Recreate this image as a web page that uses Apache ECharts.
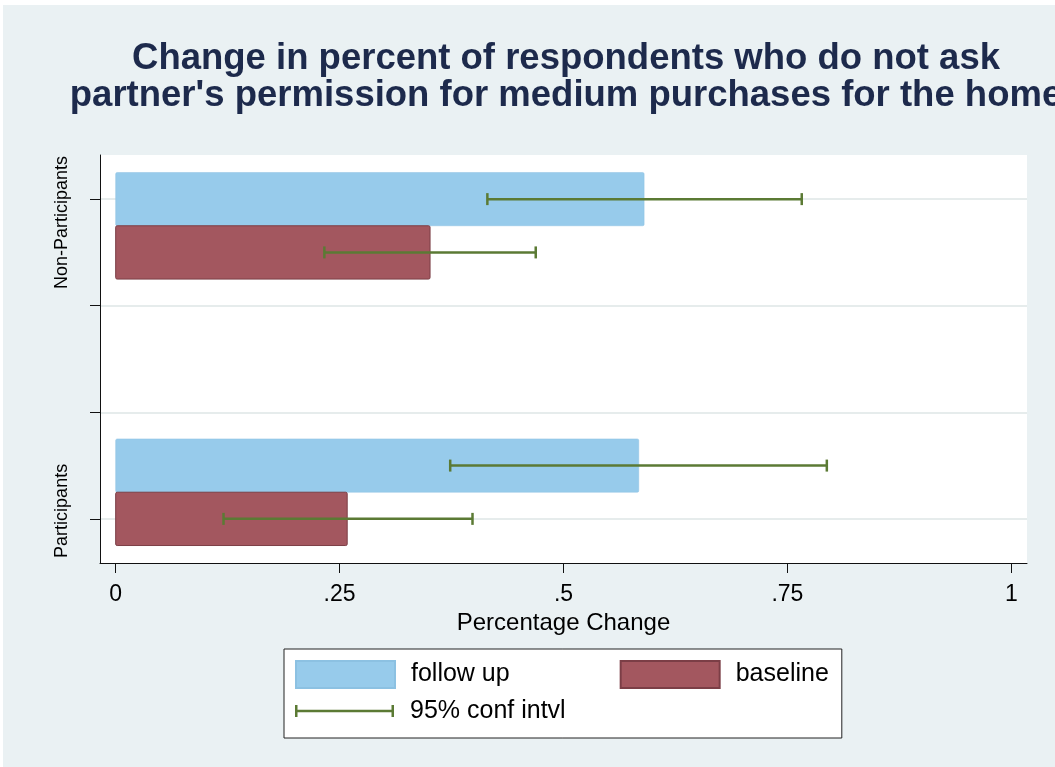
<!DOCTYPE html>
<html>
<head>
<meta charset="utf-8">
<script src="https://cdn.jsdelivr.net/npm/echarts@6/dist/echarts.min.js"></script>
<style>
html,body{margin:0;padding:0;background:#ffffff;}
#chart{position:absolute;left:3px;top:5px;width:1052px;height:762px;}
</style>
</head>
<body>
<div id="chart"></div>
<script>
// ---- data ----
const categories = ['Participants', 'Non-Participants'];
const followPos = [0.5, 3];          // axis positions of "follow up" bars
const basePos = [0, 2.5];            // axis positions of "baseline" bars
const followVals = [0.584, 0.590];
const baseVals = [0.2585, 0.351];
const followLo = [0.3735, 0.415];
const followHi = [0.794, 0.766];
const baseLo = [0.1204, 0.233];
const baseHi = [0.3984, 0.469];
const xTicks = [0, 0.25, 0.5, 0.75, 1];
const yTicks = [0, 1, 2, 3];
const yLabelPos = [0.075, 2.781];

const BLUE = '#97cbeb', MAROON = '#a3575f', GREEN = '#5b7a34';
const FONT = '"Liberation Sans", Arial, sans-serif';

const followData = followVals.map((v, i) => [v, followPos[i]]);
const baseData = baseVals.map((v, i) => [v, basePos[i]]);
const ciData = followLo.map((lo, i) => [lo, followHi[i], followPos[i]])
  .concat(baseLo.map((lo, i) => [lo, baseHi[i], basePos[i]]));

function renderBar(params, api) {
  const v = api.value(0), y = api.value(1);
  const p0 = api.coord([0, y + 0.25]);
  const p1 = api.coord([v, y - 0.25]);
  return {
    type: 'rect',
    shape: { x: p0[0], y: p0[1], width: p1[0] - p0[0], height: p1[1] - p0[1], r: 1.5 },
    style: api.style()
  };
}
function renderCI(params, api) {
  const a = api.coord([api.value(0), api.value(2)]);
  const b = api.coord([api.value(1), api.value(2)]);
  const st = { stroke: GREEN, lineWidth: 2.5, fill: null };
  return {
    type: 'group',
    children: [
      { type: 'line', shape: { x1: a[0], y1: a[1], x2: b[0], y2: b[1] }, style: st },
      { type: 'line', shape: { x1: a[0], y1: a[1] - 6, x2: a[0], y2: a[1] + 6 }, style: st },
      { type: 'line', shape: { x1: b[0], y1: b[1] - 6, x2: b[0], y2: b[1] + 6 }, style: st }
    ]
  };
}

const legendText = { fontFamily: FONT, fontSize: 25, color: '#000', padding: [0, 0, 0, 11] };
const CI_ICON = 'path://M0 0M99 27M0 7.5L2.5 7.5L2.5 12.3L96.5 12.3L96.5 7.5L99 7.5L99 19.5L96.5 19.5L96.5 14.7L2.5 14.7L2.5 19.5L0 19.5Z';

const chart = echarts.init(document.getElementById('chart'), null, { renderer: 'canvas' });
chart.setOption({
  backgroundColor: '#eaf1f3',
  animation: false,
  title: {
    text: "Change in percent of respondents who do not ask\npartner's permission for medium purchases for the home",
    left: 558, top: 30, textAlign: 'center',
    textStyle: { fontFamily: FONT, fontSize: 36.5, fontWeight: 'bold', color: '#1d2a4c', lineHeight: 37 }
  },
  grid: { left: 97, top: 150, width: 927, height: 408, show: true, backgroundColor: '#ffffff', borderWidth: 0 },
  xAxis: {
    type: 'value', min: -0.0175, max: 1.0175,
    name: 'Percentage Change', nameLocation: 'middle', nameGap: 44,
    nameTextStyle: { fontFamily: FONT, fontSize: 24, color: '#000' },
    axisLine: { show: true, onZero: false, lineStyle: { color: '#111', width: 1 } },
    axisTick: { show: true, length: 10, customValues: xTicks, lineStyle: { color: '#111' } },
    axisLabel: {
      customValues: xTicks, margin: 20,
      fontFamily: FONT, fontSize: 23, color: '#000',
      formatter: v => String(v).replace(/^0\./, '.')
    },
    splitLine: { show: false }
  },
  yAxis: {
    type: 'value', min: -0.414, max: 3.414,
    axisLine: { show: true, onZero: false, lineStyle: { color: '#111', width: 1 } },
    axisTick: { show: true, length: 10, customValues: yTicks, lineStyle: { color: '#111' } },
    axisLabel: {
      customValues: yLabelPos, rotate: 90, margin: 29,
      fontFamily: FONT, fontSize: 18, color: '#000',
      formatter: v => (v > 1.5 ? categories[1] : categories[0])
    },
    splitLine: { show: true, lineStyle: { color: '#e6ecec', width: 2 } }
  },
  legend: [
    {
      left: 281, top: 644, orient: 'horizontal',
      backgroundColor: '#ffffff', borderColor: '#222', borderWidth: 1,
      padding: [11, 13, 49, 11],
      itemWidth: 99, itemHeight: 27, itemGap: 110,
      selectedMode: false, textStyle: legendText,
      data: [{ name: 'follow up', icon: 'rect' }, { name: 'baseline', icon: 'rect' }],
      z: 4
    },
    {
      left: 281, top: 681.5, orient: 'horizontal',
      padding: [11, 11, 11, 11],
      itemWidth: 99, itemHeight: 27,
      selectedMode: false, textStyle: legendText,
      data: [{ name: '95% conf intvl', icon: CI_ICON }],
      z: 6
    }
  ],
  series: [
    { name: 'follow up', type: 'custom', renderItem: renderBar, data: followData,
      encode: { x: 0, y: 1 }, itemStyle: { color: BLUE, borderColor: '#8cc1e2', borderWidth: 0.5 }, z: 2 },
    { name: 'baseline', type: 'custom', renderItem: renderBar, data: baseData,
      encode: { x: 0, y: 1 }, itemStyle: { color: MAROON, borderColor: '#7b3e46', borderWidth: 1 }, z: 2 },
    { name: '95% conf intvl', type: 'custom', renderItem: renderCI, data: ciData,
      encode: { x: [0, 1], y: 2 }, itemStyle: { color: GREEN, borderWidth: 0 }, z: 3 }
  ]
});
</script>
</body>
</html>
